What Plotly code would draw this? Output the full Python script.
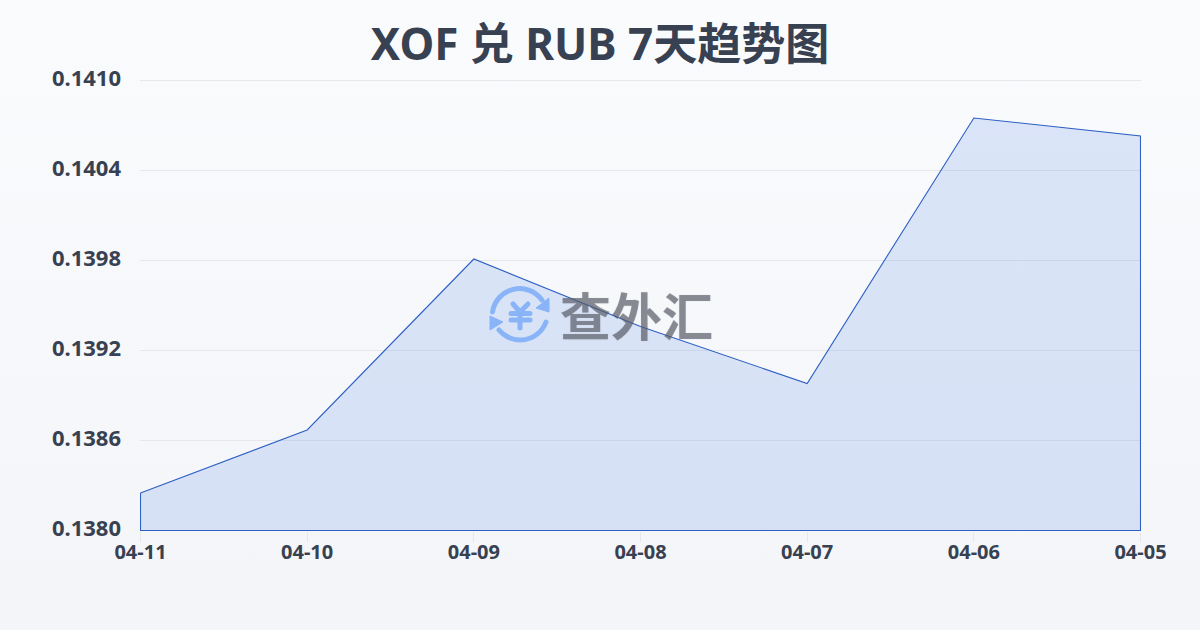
import plotly.graph_objects as go
import urllib.parse

dates = ["04-11", "04-10", "04-09", "04-08", "04-07", "04-06", "04-05"]
rates = [0.13825, 0.13867, 0.13981, 0.13936, 0.13898, 0.14075, 0.14063]
y_base = 0.1380
y_top = 0.1410
y_ticks = [0.1380, 0.1386, 0.1392, 0.1398, 0.1404, 0.1410]
y_labels = ["0.1380", "0.1386", "0.1392", "0.1398", "0.1404", "0.1410"]
title_text = "XOF 兑 RUB 7天趋势图"
watermark_text = "查外汇"

bg_svg = ('<svg xmlns="http://www.w3.org/2000/svg" width="1200" height="630" preserveAspectRatio="none">'
          '<defs><linearGradient id="g" x1="0" y1="0" x2="0" y2="1">'
          '<stop offset="0" stop-color="#fafbfd"/><stop offset="1" stop-color="#f3f5f8"/>'
          '</linearGradient></defs><rect width="1200" height="630" fill="url(#g)"/></svg>')
logo_svg = ('<svg xmlns="http://www.w3.org/2000/svg" viewBox="0 0 70 70" width="70" height="70">'
            '<g fill="none" stroke="#8ab4f8" stroke-width="5" stroke-linecap="round" stroke-linejoin="round">'
            '<path d="M7.5 32 A27.5 27.5 0 0 1 57 20"/><path d="M61 42 A27.5 27.5 0 0 1 14 50"/>'
            '<path d="M28 24 L35 32 L43 24 M35 32 V48 M26 33.5 H45 M26 40 H45"/></g>'
            '<path d="M64 18 L64 32 L51 28 Z" fill="#8ab4f8" stroke="#8ab4f8"/>'
            '<path d="M5 36 L5 50 L18 42 Z" fill="#8ab4f8" stroke="#8ab4f8"/></svg>')

def uri(s):
    return "data:image/svg+xml;charset=utf-8," + urllib.parse.quote(s)

PW, PH = 1001, 451  # plot area in pixels
fig = go.Figure()
fig.add_trace(go.Scatter(
    x=dates + [dates[-1], dates[0], dates[0]],
    y=rates + [y_base, y_base, rates[0]],
    mode="lines",
    line=dict(color="#2d5fc4", width=1.1),
    fill="toself",
    fillcolor="rgba(50,110,230,0.15)",
    cliponaxis=False,
    hoverinfo="skip", showlegend=False,
))
fig.update_layout(
    width=1200, height=630,
    margin=dict(l=140, r=59, t=80, b=99),
    autosize=False,
    paper_bgcolor="#f7f8fb", plot_bgcolor="rgba(0,0,0,0)",
    title=dict(text=title_text, x=0.5, xanchor="center", y=0.929, yanchor="middle",
               font=dict(family="Noto Sans, Noto Sans CJK SC", size=44, color="#374151", weight="bold")),
    xaxis=dict(type="category", categoryorder="array", categoryarray=dates, range=[-0.003, 6.003],
               showgrid=False, zeroline=False, showline=False,
               ticks="outside", ticklen=10, tickcolor="#e5e7eb", tickwidth=1, ticklabelstandoff=-7,
               tickfont=dict(family="Noto Sans", size=20, color="#374151", weight="bold")),
    yaxis=dict(range=[0.13799667, 0.14100333], tickvals=y_ticks, ticktext=y_labels,
               showgrid=True, gridcolor="#e5e7eb", gridwidth=1, zeroline=False, showline=False,
               ticks="", ticklabelstandoff=18, ticklabelshift=-2,
               tickfont=dict(family="Noto Sans", size=22, color="#374151", weight="bold")),
    shapes=[dict(type="line", xref="paper", x0=0, x1=1, yref="y", y0=y_top, y1=y_top,
                 line=dict(color="#e5e7eb", width=1), layer="below")],
    images=[
        dict(source=uri(bg_svg), xref="paper", yref="paper", x=-140/PW, y=1+80/PH,
             sizex=1200/PW, sizey=630/PH, xanchor="left", yanchor="top", sizing="stretch", layer="below"),
        dict(source=uri(logo_svg), xref="paper", yref="paper", x=(485-140)/PW, y=(531-280)/PH,
             sizex=70/PW, sizey=70/PH, xanchor="left", yanchor="top", sizing="stretch", layer="above"),
    ],
    annotations=[dict(text=watermark_text, xref="paper", yref="paper", x=(636-140)/PW, y=(531-314)/PH,
                      xanchor="center", yanchor="middle", showarrow=False,
                      font=dict(family="Noto Sans CJK SC", size=51, color="rgba(85,90,100,0.55)", weight="bold",
                                shadow="0 0 1px rgba(85,90,100,0.6)"))],
)
fig.write_html("out.html", config={"displayModeBar": False},
               post_script="document.documentElement.style.margin='0';document.body.style.margin='0';document.body.style.overflow='hidden';document.body.style.background='#f7f8fb';")
